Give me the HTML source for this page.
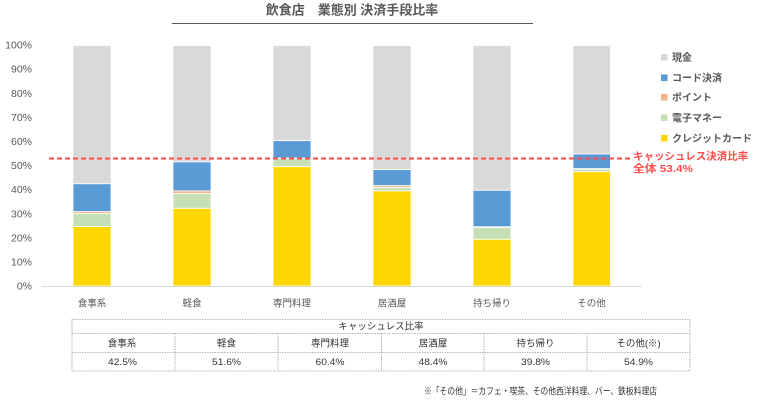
<!DOCTYPE html>
<html><head><meta charset="utf-8">
<style>
html,body{margin:0;padding:0;background:#fff;}
svg{display:block;}
text{font-family:"Liberation Sans","Noto Sans CJK JP",sans-serif;}
</style></head>
<body>
<svg width="757" height="400" viewBox="0 0 757 400" xmlns="http://www.w3.org/2000/svg">
<rect width="757" height="400" fill="#fff"/>
<!-- title -->
<text x="352" y="14.5" font-size="13" font-weight="bold" fill="#595959" text-anchor="middle">飲食店　業態別 決済手段比率</text>
<line x1="172" y1="23.5" x2="533" y2="23.5" stroke="#595959" stroke-width="1"/>

<!-- y labels -->
<g font-size="10.5" fill="#595959" text-anchor="end">
<text x="32" y="289.5">0%</text>
<text x="32" y="265.5">10%</text>
<text x="32" y="241.5">20%</text>
<text x="32" y="217.5">30%</text>
<text x="32" y="193">40%</text>
<text x="32" y="169">50%</text>
<text x="32" y="145">60%</text>
<text x="32" y="121">70%</text>
<text x="32" y="97">80%</text>
<text x="32" y="72.5">90%</text>
<text x="32" y="48.5">100%</text>
</g>

<!-- bars -->
<g stroke="#fff" stroke-width="0.8">
<rect x="73" y="45.5" width="38" height="138.3" fill="#d9d9d9"/>
<rect x="73" y="183.8" width="38" height="27.9" fill="#5b9bd5"/>
<rect x="73" y="211.7" width="38" height="1.7" fill="#f4b183"/>
<rect x="73" y="213.4" width="38" height="13.2" fill="#c5e0b4"/>
<rect x="73" y="226.6" width="38" height="59.4" fill="#ffd700"/>

<rect x="173" y="45.5" width="38" height="116.4" fill="#d9d9d9"/>
<rect x="173" y="161.9" width="38" height="29.1" fill="#5b9bd5"/>
<rect x="173" y="191" width="38" height="2.4" fill="#f4b183"/>
<rect x="173" y="193.4" width="38" height="14.9" fill="#c5e0b4"/>
<rect x="173" y="208.3" width="38" height="77.7" fill="#ffd700"/>

<rect x="273" y="45.5" width="38" height="95.2" fill="#d9d9d9"/>
<rect x="273" y="140.7" width="38" height="17.3" fill="#5b9bd5"/>
<rect x="273" y="158" width="38" height="0.5" fill="#f4b183"/>
<rect x="273" y="158.5" width="38" height="8.2" fill="#c5e0b4"/>
<rect x="273" y="166.7" width="38" height="119.3" fill="#ffd700"/>

<rect x="373" y="45.5" width="38" height="124.1" fill="#d9d9d9"/>
<rect x="373" y="169.6" width="38" height="16.1" fill="#5b9bd5"/>
<rect x="373" y="185.7" width="38" height="1.9" fill="#f4b183"/>
<rect x="373" y="187.6" width="38" height="3.4" fill="#c5e0b4"/>
<rect x="373" y="191" width="38" height="95" fill="#ffd700"/>

<rect x="473" y="45.5" width="38" height="144.8" fill="#d9d9d9"/>
<rect x="473" y="190.3" width="38" height="36.5" fill="#5b9bd5"/>
<rect x="473" y="226.8" width="38" height="1" fill="#f4b183"/>
<rect x="473" y="227.8" width="38" height="11.5" fill="#c5e0b4"/>
<rect x="473" y="239.3" width="38" height="46.7" fill="#ffd700"/>

<rect x="573" y="45.5" width="37.5" height="108.5" fill="#d9d9d9"/>
<rect x="573" y="154" width="37.5" height="14.7" fill="#5b9bd5"/>
<rect x="573" y="168.7" width="37.5" height="0.5" fill="#f4b183"/>
<rect x="573" y="169.2" width="37.5" height="2.6" fill="#c5e0b4"/>
<rect x="573" y="171.8" width="37.5" height="114.2" fill="#ffd700"/>
</g>

<!-- axis -->
<line x1="42" y1="286.5" x2="642" y2="286.5" stroke="#d9d9d9" stroke-width="1"/>

<!-- dashed line -->
<line x1="49" y1="158.5" x2="630" y2="158.5" stroke="#ff4d4d" stroke-width="2" stroke-dasharray="5,3"/>

<!-- x labels -->
<g font-size="9.5" fill="#595959" text-anchor="middle">
<text x="92" y="306.5">食事系</text>
<text x="192" y="306.5">軽食</text>
<text x="292" y="306.5">専門料理</text>
<text x="392" y="306.5">居酒屋</text>
<text x="492" y="306.5">持ち帰り</text>
<text x="591.5" y="306.5">その他</text>
</g>

<!-- legend -->
<g font-size="10" font-weight="bold" fill="#595959">
<rect x="661" y="54" width="6.5" height="6.5" fill="#d9d9d9"/>
<text x="672" y="61">現金</text>
<rect x="661" y="74.5" width="6.5" height="6.5" fill="#5b9bd5"/>
<text x="672" y="81.5">コード決済</text>
<rect x="661" y="94" width="6.5" height="6.5" fill="#f4b183"/>
<text x="672" y="101">ポイント</text>
<rect x="661" y="114.5" width="6.5" height="6.5" fill="#c5e0b4"/>
<text x="672" y="121.5">電子マネー</text>
<rect x="661" y="135" width="6.5" height="6.5" fill="#ffd700"/>
<text x="672" y="142">クレジットカード</text>
</g>

<!-- annotation -->
<g font-size="10.5" font-weight="bold" fill="#ff4d4d">
<text x="633" y="159.5">キャッシュレス決済比率</text>
<text x="633" y="172" textLength="60" lengthAdjust="spacingAndGlyphs">全体 53.4%</text>
</g>

<!-- table -->
<g stroke="#a0a0a0" stroke-width="0.8" stroke-dasharray="1.5,1" fill="none">
<rect x="72" y="319.5" width="618" height="51.5"/>
<line x1="72" y1="333.5" x2="690" y2="333.5"/>
<line x1="72" y1="352.5" x2="690" y2="352.5"/>
<line x1="175" y1="333.5" x2="175" y2="371"/>
<line x1="278" y1="333.5" x2="278" y2="371"/>
<line x1="381.5" y1="333.5" x2="381.5" y2="371"/>
<line x1="484" y1="333.5" x2="484" y2="371"/>
<line x1="587" y1="333.5" x2="587" y2="371"/>
</g>
<g font-size="9.5" fill="#333" text-anchor="middle">
<text x="381" y="329.5">キャッシュレス比率</text>
<text x="122" y="346.5">食事系</text>
<text x="226.5" y="346.5">軽食</text>
<text x="330" y="346.5">専門料理</text>
<text x="433" y="346.5">居酒屋</text>
<text x="535.5" y="346.5">持ち帰り</text>
<text x="638.5" y="346.5">その他(※)</text>
<text x="122.5" y="365" textLength="29" lengthAdjust="spacingAndGlyphs">42.5%</text>
<text x="226.5" y="365" textLength="29" lengthAdjust="spacingAndGlyphs">51.6%</text>
<text x="330" y="365" textLength="29" lengthAdjust="spacingAndGlyphs">60.4%</text>
<text x="433" y="365" textLength="29" lengthAdjust="spacingAndGlyphs">48.4%</text>
<text x="535.5" y="365" textLength="29" lengthAdjust="spacingAndGlyphs">39.8%</text>
<text x="638.5" y="365" textLength="29" lengthAdjust="spacingAndGlyphs">54.9%</text>
</g>

<!-- footnote -->
<text x="424" y="394.5" font-size="9.5" fill="#333" textLength="233" lengthAdjust="spacingAndGlyphs">※「その他」＝カフェ・喫茶、その他西洋料理、バー、鉄板料理店</text>
</svg>
</body></html>
